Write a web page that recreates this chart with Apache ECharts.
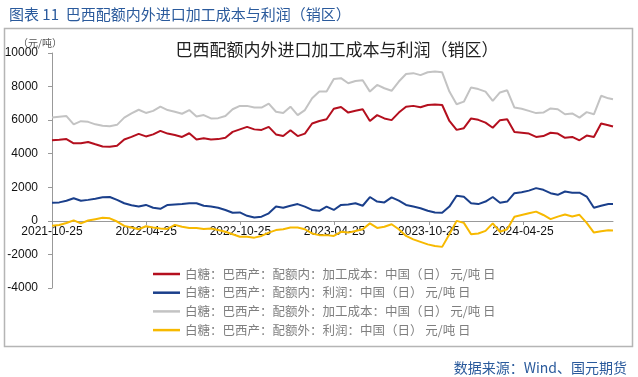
<!DOCTYPE html>
<html>
<head>
<meta charset="utf-8">
<script src="https://cdn.jsdelivr.net/npm/echarts@6/dist/echarts.min.js"></script>
<style>
  html, body { margin: 0; padding: 0; background: #fff; }
  #main { width: 638px; height: 377px; }
</style>
</head>
<body>
<div id="main"></div>
<script>
// 日期（两周取样）
var dates = [
  '2021-10-25', '2021-11-08', '2021-11-22', '2021-12-06', '2021-12-20',
  '2022-01-03', '2022-01-17', '2022-01-31', '2022-02-14', '2022-02-28',
  '2022-03-14', '2022-03-28', '2022-04-11', '2022-04-25', '2022-05-09',
  '2022-05-23', '2022-06-06', '2022-06-20', '2022-07-04', '2022-07-18',
  '2022-08-01', '2022-08-15', '2022-08-29', '2022-09-12', '2022-09-26',
  '2022-10-10', '2022-10-24', '2022-11-07', '2022-11-21', '2022-12-05',
  '2022-12-19', '2023-01-02', '2023-01-16', '2023-01-30', '2023-02-13',
  '2023-02-27', '2023-03-13', '2023-03-27', '2023-04-10', '2023-04-24',
  '2023-05-08', '2023-05-22', '2023-06-05', '2023-06-19', '2023-07-03',
  '2023-07-17', '2023-07-31', '2023-08-14', '2023-08-28', '2023-09-11',
  '2023-09-25', '2023-10-09', '2023-10-23', '2023-11-06', '2023-11-20',
  '2023-12-04', '2023-12-18', '2024-01-01', '2024-01-15', '2024-01-29',
  '2024-02-12', '2024-02-26', '2024-03-11', '2024-03-25', '2024-04-08',
  '2024-04-22', '2024-05-06', '2024-05-20', '2024-06-03', '2024-06-17',
  '2024-07-01', '2024-07-15', '2024-07-29', '2024-08-12', '2024-08-26',
  '2024-09-09', '2024-09-23', '2024-10-07', '2024-10-16'
];

// 配额内：加工成本
var costIn = [
  4800, 4830, 4870, 4620, 4630, 4700, 4560, 4430, 4420, 4470,
  4850, 5000, 5180, 5030, 5150, 5360, 5200, 5120, 5000, 5220,
  4850, 4920, 4850, 4870, 4950, 5300, 5450, 5600, 5450, 5420,
  5600, 5150, 5050, 5400, 5050, 5200, 5800, 5950, 6050, 6680,
  6780, 6450, 6560, 6650, 5950, 6300, 6100, 6000, 6450, 6800,
  6850, 6770, 6900, 6930, 6900, 5950, 5420, 5520, 6100, 6020,
  5850, 5550, 6000, 6060, 5300, 5250, 5200, 5000, 5050, 5250,
  5200, 4950, 5000, 4800, 5080, 5000, 5800, 5700, 5620
];
// 配额内：利润
var profitIn = [
  1080, 1100, 1200, 1350, 1200, 1250, 1320, 1400, 1420, 1250,
  1050, 930, 850, 950, 780, 720, 950, 980, 1000, 1050,
  1050, 900, 850, 780, 650, 480, 500, 300, 200, 250,
  450, 850, 780, 900, 1000, 850, 650, 600, 850, 650,
  950, 980, 1050, 900, 1420, 1150, 1100, 1400, 1200, 950,
  850, 750, 600, 500, 480, 850, 1500, 1440, 1050, 1000,
  1150, 1420, 1080, 1150, 1650, 1700, 1800, 1950, 1850, 1650,
  1550, 1750, 1680, 1680, 1450, 780, 900, 1000, 1000
];
// 配额外：加工成本
var costOut = [
  6160, 6200, 6240, 5750, 5940, 5900, 5750, 5660, 5640, 5720,
  6150, 6400, 6620, 6430, 6550, 6800, 6600, 6500, 6380, 6600,
  6220, 6300, 6100, 6120, 6250, 6650, 6850, 6850, 6750, 6750,
  6980, 6500, 6430, 6800, 6300, 6600, 7300, 7700, 7700, 8450,
  8500, 8200, 8330, 8380, 7700, 8100, 7900, 7750, 8300, 8750,
  8800, 8680, 8850, 8900, 8850, 7700, 6950, 7100, 7950, 7850,
  7700, 7150, 7650, 7780, 6750, 6680, 6550, 6420, 6450, 6700,
  6650, 6350, 6400, 6150, 6480, 6350, 7450, 7300, 7250
];
// 配额外：利润
var profitOut = [
  -290, -250, -130, 30, -150, 20, 100, 180, 150, -40,
  -300, -400, -500, -320, -400, -450, -480, -240, -350, -420,
  -420, -480, -450, -540, -650, -800, -950, -950, -1000, -900,
  -700, -550, -500, -400, -400, -500, -750, -850, -850, -900,
  -650, -700, -600, -500, -150, -420, -350, -200, -500, -900,
  -1100, -1250, -1400, -1500, -1550, -800, 0, -120, -800, -750,
  -600, -150, -650, -500, 250, 350, 450, 550, 350, 100,
  250, 380, 260, 360, -120, -700, -620, -560, -580
];

var xLabels = ['2021-10-25', '2022-04-25', '2022-10-25', '2023-04-25', '2023-10-25', '2024-04-25'];
var seriesNames = [
  '白糖：巴西产：配额内：加工成本：中国（日） 元/吨 日',
  '白糖：巴西产：配额内：利润：中国（日） 元/吨 日',
  '白糖：巴西产：配额外：加工成本：中国（日） 元/吨 日',
  '白糖：巴西产：配额外：利润：中国（日） 元/吨 日'
];
var seriesColors = ['#B40F1E', '#1A3F8B', '#C3C3C3', '#F7B900'];

var DAY = 86400000;
var t0 = Date.parse(dates[0]);
var tMax = (Date.parse(dates[dates.length - 1]) - t0) / DAY;
var HALF_YEAR = 182.5;

function toPairs(values) {
  var out = [];
  for (var i = 0; i < dates.length; i++) {
    out.push([(Date.parse(dates[i]) - t0) / DAY, values[i]]);
  }
  return out;
}

var chart = echarts.init(document.getElementById('main'));
var allData = [costIn, profitIn, costOut, profitOut];
var drawOrder = [2, 0, 1, 3];
var series = [];
for (var k = 0; k < drawOrder.length; k++) {
  var s = drawOrder[k];
  series.push({
    name: seriesNames[s],
    type: 'line',
    symbol: 'none',
    xAxisIndex: 0,
    yAxisIndex: 0,
    data: toPairs(allData[s]),
    lineStyle: { width: 2, color: seriesColors[s] },
    itemStyle: { color: seriesColors[s] },
    z: 2 + k
  });
}

var option = {
  backgroundColor: '#fff',
  animation: false,
  title: [
    {
      text: '图表 11  巴西配额内外进口加工成本与利润（销区）',
      left: 4, top: 2,
      textStyle: { color: '#2A5A9C', fontSize: 15, fontWeight: 'normal', fontFamily: 'Noto Sans CJK SC' }
    },
    {
      text: '巴西配额内外进口加工成本与利润（销区）',
      left: 332, top: 36, textAlign: 'center',
      textStyle: { color: '#222', fontSize: 17, fontWeight: 'normal', fontFamily: 'Noto Sans CJK SC' }
    },
    {
      text: '（元/吨）',
      left: 13, top: 33,
      textStyle: { color: '#555', fontSize: 10, fontWeight: 'normal', fontFamily: 'Noto Sans CJK SC' }
    },
    {
      text: '数据来源：Wind、国元期货',
      right: 6, top: 356,
      textStyle: { color: '#2A5A9C', fontSize: 14, fontWeight: 'normal', fontFamily: 'Noto Sans CJK SC' }
    }
  ],
  graphic: [
    {
      type: 'rect',
      shape: { x: 4.5, y: 28.5, width: 628, height: 318 },
      style: { fill: null, stroke: '#b5b5b5', lineWidth: 1.5 },
      silent: true
    }
  ],
  legend: {
    orient: 'vertical',
    left: 148, top: 262,
    icon: 'rect',
    itemWidth: 27, itemHeight: 2.5, itemGap: 4.7,
    data: seriesNames,
    textStyle: { color: '#7f7f7f', fontSize: 12.5, lineHeight: 14, fontFamily: 'Noto Sans CJK SC' }
  },
  // grid 0: 数据区；grid 1: 底边对齐 0 值，用来放日期轴
  grid: [
    { left: 52, right: 25, top: 53, bottom: 89 },
    { left: 52, right: 25, top: 53, bottom: 156 }
  ],
  xAxis: [
    { type: 'value', gridIndex: 0, min: 0, max: tMax, show: false },
    {
      type: 'value',
      gridIndex: 1,
      min: 0,
      max: tMax,
      interval: HALF_YEAR,
      position: 'bottom',
      axisLine: { show: true, onZero: false, lineStyle: { color: '#999', width: 1 } },
      axisTick: { show: true, length: 4, lineStyle: { color: '#999' } },
      splitLine: { show: false },
      axisLabel: {
        color: '#111', fontSize: 12, fontFamily: 'Liberation Sans', margin: 5,
        showMaxLabel: false,
        formatter: function (v) {
          var idx = Math.round(v / HALF_YEAR);
          if (Math.abs(v - idx * HALF_YEAR) > 1 || idx >= xLabels.length) return '';
          return xLabels[idx];
        }
      }
    }
  ],
  yAxis: [
    {
      type: 'value',
      gridIndex: 0,
      min: -4000, max: 10000, interval: 2000,
      axisLine: { show: true, onZero: false, lineStyle: { color: '#999', width: 1 } },
      axisTick: { show: true, length: 4, lineStyle: { color: '#999' } },
      splitLine: { show: false },
      axisLabel: {
        color: '#111', fontSize: 12, fontFamily: 'Liberation Sans', margin: 14,
        formatter: function (v) { return String(v); }
      }
    },
    { type: 'value', gridIndex: 1, min: 0, max: 1, show: false }
  ],
  series: series
};
chart.setOption(option);
</script>
</body>
</html>
